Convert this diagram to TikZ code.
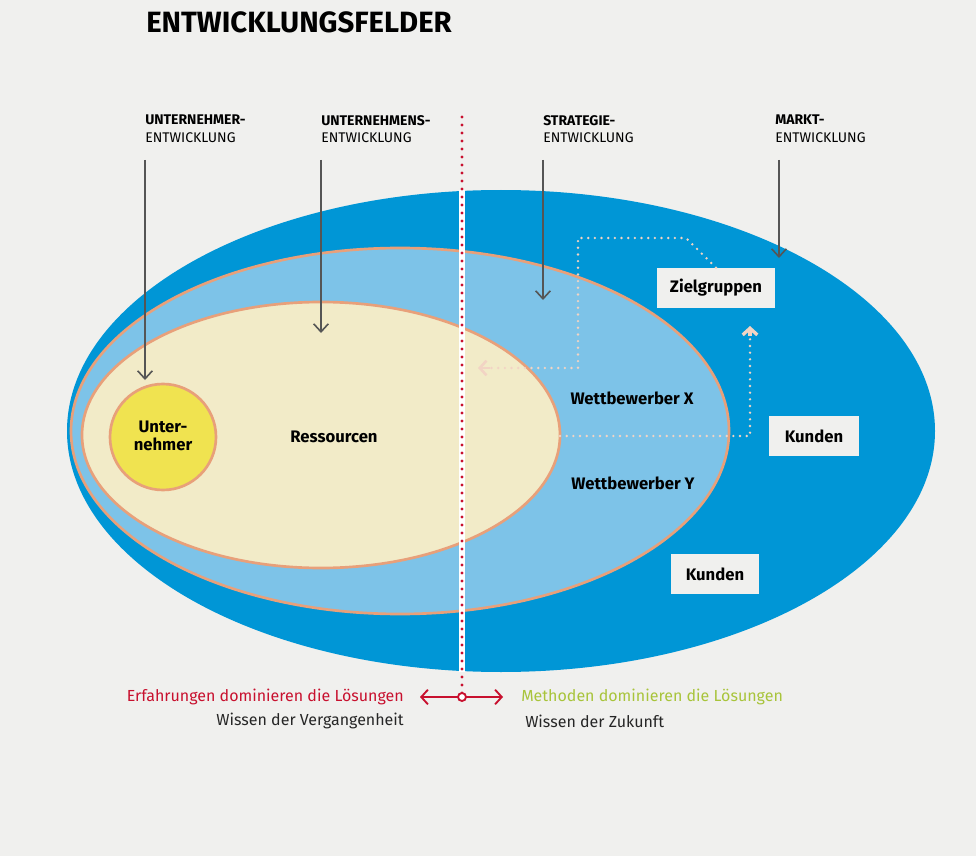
\documentclass[tikz,border=0pt]{standalone}
\usepackage{fontspec}
\setmainfont{Fira Sans}
\usetikzlibrary{arrows.meta,calc}
\definecolor{bg}{HTML}{F0F0EE}
\definecolor{outerb}{HTML}{0096D6}
\definecolor{midb}{HTML}{7DC3E8}
\definecolor{cream}{HTML}{F2EBC8}
\definecolor{yel}{HTML}{F0E350}
\definecolor{salmon}{HTML}{E8A07A}
\definecolor{pale}{HTML}{F2D4C4}
\definecolor{redd}{HTML}{C8102E}
\definecolor{grn}{HTML}{A8C43A}
\definecolor{gr}{HTML}{555555}
\tikzset{
 hdr/.style={anchor=north west,align=left,font=\fontsize{10.5}{13}\selectfont,inner sep=0pt},
 down/.style={gr,line width=1.2pt,-{Straight Barb[length=6pt,width=11pt]}},
 box/.style={fill=bg,font=\bfseries\fontsize{12.5}{14}\selectfont,minimum height=30pt,inner sep=0pt},
 pdot/.style={pale,line width=2pt,dash pattern=on 0pt off 5pt,line cap=round},
 lbl/.style={font=\bfseries\fontsize{12.5}{14}\selectfont},
}
\begin{document}
\begin{tikzpicture}[x=0.75pt,y=-0.75pt]
\fill[bg] (0,0) rectangle (976,856);
\useasboundingbox (0,0) rectangle (976,856);
\node[anchor=west,font=\bfseries\fontsize{22}{24}\selectfont,inner sep=0pt] (title) at (146,22) {ENTWICKLUNGSFELDER};
% ellipses
\fill[outerb] (501,431) ellipse [x radius=434,y radius=241];
\draw[salmon,fill=midb,line width=2pt] (400,431) ellipse [x radius=329,y radius=183];
\draw[salmon,fill=cream,line width=2pt] (321,435) ellipse [x radius=239,y radius=133];
\draw[salmon,fill=yel,line width=2pt] (163,437) circle [radius=53];
\node[lbl,align=center] (u) at (163,436) {Unter-\\nehmer};
\node[lbl] (res) at (334,437) {Ressourcen};
\node[lbl] (wx) at (632,398) {Wettbewerber X};
\node[lbl] (wy) at (633,483) {Wettbewerber Y};
% boxes
\node[box,minimum width=88.5pt] (zg) at (716,288) {Zielgruppen};
\node[box,minimum width=67.5pt] (k1) at (814,436) {Kunden};
\node[box,minimum width=66pt] (k2) at (715,574) {Kunden};
% headers
\node[hdr] (h1) at (145,115) {\textbf{UNTERNEHMER-}\\ENTWICKLUNG};
\node[hdr] (h2) at (321,115) {\textbf{UNTERNEHMENS-}\\ENTWICKLUNG};
\node[hdr] (h3) at (543,115) {\textbf{STRATEGIE-}\\ENTWICKLUNG};
\node[hdr] (h4) at (775,115) {\textbf{MARKT-}\\ENTWICKLUNG};
\coordinate (a1) at (145,160); \coordinate (b1) at (145,380);
\coordinate (a2) at (321,160); \coordinate (b2) at (321,333);
\coordinate (a3) at (543,160); \coordinate (b3) at (543,300);
\coordinate (a4) at (779,160); \coordinate (b4) at (779,258);
\draw[down] (a1) -- (b1);
\draw[down] (a2) -- (b2);
\draw[down] (a3) -- (b3);
\draw[down] (a4) -- (b4);
% dotted flows
\coordinate (p1) at (686,238); \coordinate (p2) at (578,238); \coordinate (p3) at (578,368); \coordinate (p4) at (484,368);
\draw[pdot] (zg.north) -- (p1) -- (p2) -- (p3) -- (p4);
\draw[pale,line width=2pt,-{Straight Barb[length=5pt,width=11pt]}] ($(p4)+(6,0)$) -- (478,368);
\coordinate (q0) at (560,436); \coordinate (q1) at (750,436); \coordinate (q2) at (750,332);
\draw[pdot] (q0) -- (q1) -- (q2);
\draw[pale,line width=2.5pt,-{Straight Barb[length=5pt,width=11pt]}] (750,336) -- (750,326);
% divider
\coordinate (d0) at (462,117); \coordinate (d1) at (462,697);
\draw[white,line width=4pt] (462,190) -- (462,672);
\draw[redd,line width=2.4pt,dash pattern=on 0pt off 6pt,line cap=round] (d0) -- (d1);
\coordinate (la) at (420,697); \coordinate (ra) at (503,697);
\draw[redd,line width=1.4pt,-{Straight Barb[length=5pt,width=11pt]}] (d1) -- (la);
\draw[redd,line width=1.4pt,-{Straight Barb[length=5pt,width=11pt]}] (d1) -- (ra);
\node[circle,draw=redd,fill=white,line width=1.4pt,minimum size=6pt,inner sep=0pt] (c) at (d1) {};
\node[anchor=east,redd,font=\fontsize{12}{14}\selectfont,inner sep=0pt] (t1) at (404,697) {Erfahrungen dominieren die Lösungen};
\node[anchor=east,font=\fontsize{12}{14}\selectfont,inner sep=0pt,text=black!85] (t2) at (404,721) {Wissen der Vergangenheit};
\node[anchor=west,grn,font=\fontsize{12}{14}\selectfont,inner sep=0pt] (t3) at (521,697) {Methoden dominieren die Lösungen};
\node[anchor=west,font=\fontsize{12}{14}\selectfont,inner sep=0pt,text=black!85] (t4) at (525,721) {Wissen der Zukunft};
\end{tikzpicture}
\end{document}
